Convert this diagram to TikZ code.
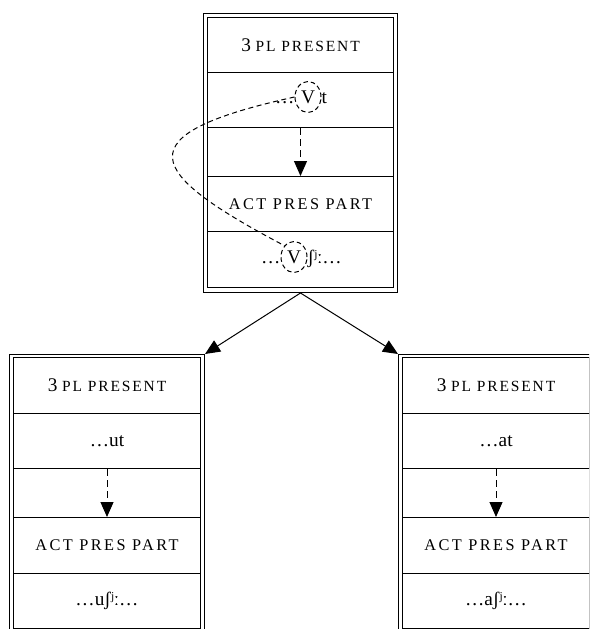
\documentclass[tikz,border=0pt]{standalone}
\usepackage{fontspec}
\setmainfont{Liberation Serif}
\usetikzlibrary{arrows.meta,shapes.geometric}
\newcommand\fsc[1]{{\fontsize{15.5}{18}\selectfont\addfontfeature{LetterSpace=12}#1}}
\newcommand\actpart{{\fontsize{16.3}{18}\selectfont\addfontfeature{LetterSpace=15}ACT PRES PART}}
\begin{document}
\begin{tikzpicture}[x=1pt,y=-1pt,
  every node/.style={font=\fontsize{19.3}{22}\selectfont},
  frame/.style={draw,line width=1pt,anchor=north west,inner sep=0pt},
  cell/.style={draw,line width=1pt,anchor=north west,inner sep=0pt,align=center},
  txt/.style={inner sep=0pt},
  vcirc/.style={draw,ellipse,line width=1pt,inner sep=0pt,minimum width=26pt,minimum height=31pt,dash pattern=on 4.5pt off 3pt},
  arr/.style={line width=1pt,-{Triangle[width=13pt,length=15pt]}},
  darr/.style={line width=1pt,dash pattern=on 7pt off 4pt,-{Triangle[width=13pt,length=15pt]}}]
\useasboundingbox (0,0) rectangle (589,629);
\clip (0,0) rectangle (589,629);
% top
\node[frame,minimum width=194pt,minimum height=279pt] (T) at (203,13) {};
\node[frame,minimum width=186pt,minimum height=270pt] (Ti) at (207,17) {};
\node[cell,minimum width=186pt,minimum height=55pt] (T1) at (207,17) {3 \fsc{PL PRESENT}};
\node[cell,minimum width=186pt,minimum height=55pt] (T2) at (207,72) {};
\node[cell,minimum width=186pt,minimum height=55pt] (T3) at (207,176) {\actpart};
\node[cell,minimum width=186pt,minimum height=56pt] (T4) at (207,231) {};
\node[vcirc] (V1) at (308,97) {V};
\node[txt,anchor=base east] (d1) at (V1.base west) {…};
\node[txt,anchor=base west] (t1) at (V1.base east) {t};
\node[vcirc] (V2) at (294,257) {V};
\node[txt,anchor=base east] (d2) at (V2.base west) {…};
\node[txt,anchor=base west] (t2) at (V2.base east) {ʃʲː…};
\draw[darr] (T2.south) -- (T3.north);
\draw[line width=1pt,dash pattern=on 5pt off 3.5pt] (V1.west) .. controls (122,135) and (145,172) .. (V2.north west);
% left
\node[frame,minimum width=195pt,minimum height=280pt] (L) at (9,354) {};
\node[frame,minimum width=187pt,minimum height=277pt] (Li) at (13,357) {};
\node[cell,minimum width=187pt,minimum height=56pt] (L1) at (13,357) {3 \fsc{PL PRESENT}};
\node[cell,minimum width=187pt,minimum height=55pt] (L2) at (13,413) {…ut};
\node[cell,minimum width=187pt,minimum height=56pt] (L3) at (13,517) {\actpart};
\node[cell,minimum width=187pt,minimum height=55pt] (L4) at (13,573) {…uʃʲː…};
\draw[darr] (L2.south) -- (L3.north);
% right
\node[frame,minimum width=195pt,minimum height=280pt] (R) at (398,354) {};
\node[frame,minimum width=187pt,minimum height=277pt] (Ri) at (402,357) {};
\node[cell,minimum width=187pt,minimum height=56pt] (R1) at (402,357) {3 \fsc{PL PRESENT}};
\node[cell,minimum width=187pt,minimum height=55pt] (R2) at (402,413) {…at};
\node[cell,minimum width=187pt,minimum height=56pt] (R3) at (402,517) {\actpart};
\node[cell,minimum width=187pt,minimum height=55pt] (R4) at (402,573) {…aʃʲː…};
\draw[darr] (R2.south) -- (R3.north);
% main arrows
\draw[arr] (T.south) -- (L.north east);
\draw[arr] (T.south) -- (R.north west);
\end{tikzpicture}
\end{document}
